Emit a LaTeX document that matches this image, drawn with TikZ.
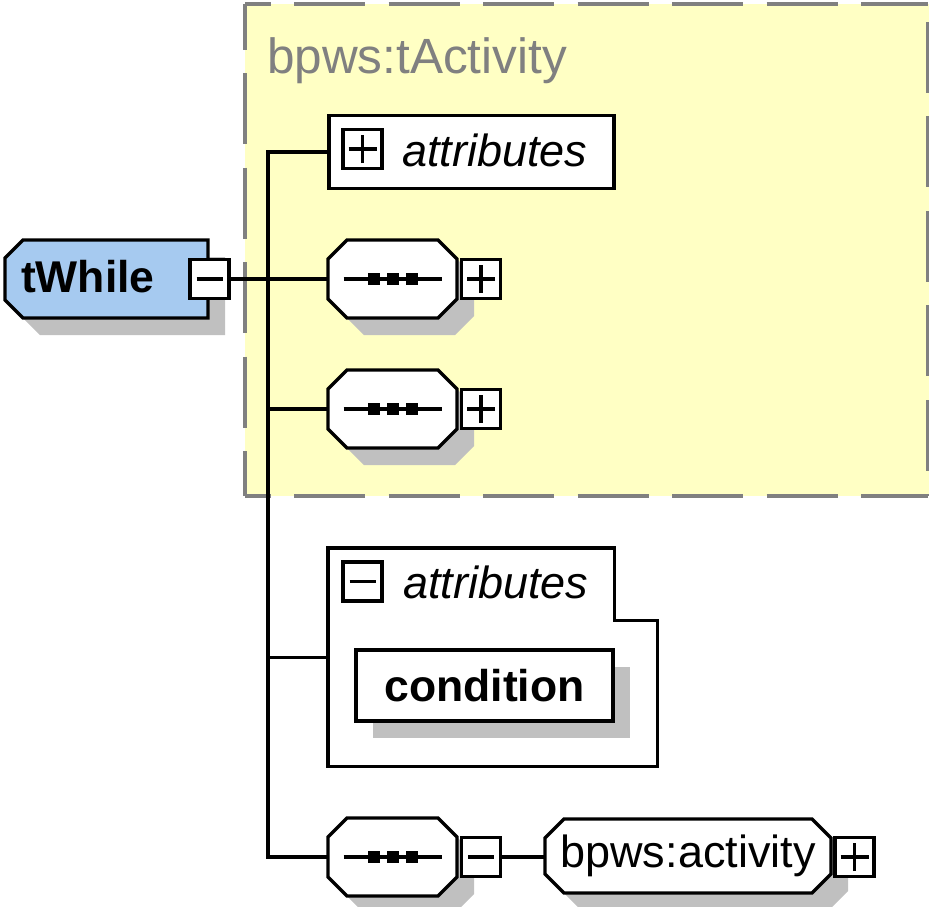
\documentclass[tikz,border=0pt]{standalone}
\usepackage{fontspec}
\setmainfont{Liberation Sans}
\usetikzlibrary{shadows,backgrounds}

\definecolor{typeblue}{RGB}{166,202,240}
\definecolor{basefill}{RGB}{255,255,196}
\definecolor{framegray}{RGB}{128,128,128}
\definecolor{shadowgray}{RGB}{192,192,192}

% A rectangle whose corners are cut off at 45 degrees;
% the left and right cuts are set separately.
\makeatletter
\pgfkeys{/pgf/left cut/.initial=19pt, /pgf/right cut/.initial=19pt}
\newdimen\cbxa \newdimen\cbya \newdimen\cbxb \newdimen\cbyb
\newdimen\cbcl \newdimen\cbcr
\newdimen\cbxl \newdimen\cbxr
\newdimen\cbyll \newdimen\cbylu \newdimen\cbyrl \newdimen\cbyru
\pgfdeclareshape{cutbox}{%
  \inheritsavedanchors[from=rectangle]
  \inheritanchorborder[from=rectangle]
  \inheritanchor[from=rectangle]{center}
  \inheritanchor[from=rectangle]{north}
  \inheritanchor[from=rectangle]{south}
  \inheritanchor[from=rectangle]{east}
  \inheritanchor[from=rectangle]{west}
  \inheritanchor[from=rectangle]{north east}
  \inheritanchor[from=rectangle]{north west}
  \inheritanchor[from=rectangle]{south east}
  \inheritanchor[from=rectangle]{south west}
  \backgroundpath{%
    \southwest \cbxa=\pgf@x \cbya=\pgf@y
    \northeast \cbxb=\pgf@x \cbyb=\pgf@y
    \pgfmathsetlength\cbcl{\pgfkeysvalueof{/pgf/left cut}}%
    \pgfmathsetlength\cbcr{\pgfkeysvalueof{/pgf/right cut}}%
    \cbxl=\cbxa \advance\cbxl by \cbcl
    \cbxr=\cbxb \advance\cbxr by -\cbcr
    \cbyll=\cbya \advance\cbyll by \cbcl
    \cbylu=\cbyb \advance\cbylu by -\cbcl
    \cbyrl=\cbya \advance\cbyrl by \cbcr
    \cbyru=\cbyb \advance\cbyru by -\cbcr
    \pgfpathmoveto{\pgfqpoint{\cbxl}{\cbya}}%
    \pgfpathlineto{\pgfqpoint{\cbxr}{\cbya}}%
    \pgfpathlineto{\pgfqpoint{\cbxb}{\cbyrl}}%
    \pgfpathlineto{\pgfqpoint{\cbxb}{\cbyru}}%
    \pgfpathlineto{\pgfqpoint{\cbxr}{\cbyb}}%
    \pgfpathlineto{\pgfqpoint{\cbxl}{\cbyb}}%
    \pgfpathlineto{\pgfqpoint{\cbxa}{\cbylu}}%
    \pgfpathlineto{\pgfqpoint{\cbxa}{\cbyll}}%
    \pgfpathclose
  }%
}
\makeatother

\begin{document}
\begin{tikzpicture}[x=1pt,y=-1pt,
  every node/.style={outer sep=0pt, inner sep=0pt, font=\fontsize{45}{54}\selectfont},
  wire/.style={line width=3.3pt},
  shade17/.style={drop shadow={shadow xshift=17pt, shadow yshift=-17pt, fill=shadowgray, opacity=1}},
  octa/.style={cutbox, left cut=19pt, right cut=19pt, draw, line width=3.3pt, fill=white},
  seqglyph/.style={path picture={
      \draw[black, line width=3.3pt] ([xshift=-49pt]path picture bounding box.center)
        -- ([xshift=49pt]path picture bounding box.center);
      \foreach \dx in {-19,0,19}
        \fill[black] ([xshift=\dx pt]path picture bounding box.center) +(-6,-6) rectangle +(6,6);}},
  seqbox/.style={octa, shade17, seqglyph, minimum width=129pt, minimum height=78pt},
  pmbox/.style={rectangle, draw, line width=3.3pt, fill=white, minimum size=39pt},
  plusbox/.style={pmbox, path picture={\draw[black, line width=3.3pt]
      ([xshift=-14pt]path picture bounding box.center) -- ([xshift=14pt]path picture bounding box.center)
      ([yshift=-14pt]path picture bounding box.center) -- ([yshift=14pt]path picture bounding box.center);}},
  minusbox/.style={pmbox, path picture={\draw[black, line width=3.3pt]
      ([xshift=-13pt]path picture bounding box.center) -- ([xshift=13pt]path picture bounding box.center);}},
  attrbox/.style={rectangle, draw, line width=3.3pt, fill=white},
  groupline/.style={draw, line width=3.3pt, fill=white},
  framedash/.style={draw=framegray, line width=3.8pt, dash pattern=on 71pt off 23.5pt},
  boldlabel/.style={font=\fontsize{44.5}{53}\selectfont\bfseries},
  itlabel/.style={font=\fontsize{45}{54}\selectfont\itshape},
]
\useasboundingbox (0,0) rectangle (929,906);

% base type area: pale yellow panel with dashed grey frame
\begin{scope}[on background layer]
  \fill[white] (0,0) rectangle (929,906);
  \fill[basefill] (245,4) rectangle (929,496);
  \draw[framedash, dash phase=45.5pt] (245,4) -- (928,4);
  \draw[framedash, dash phase=45.5pt] (245,496) -- (928,496);
  \draw[framedash, dash phase=25.5pt] (245,4) -- (245,496);
  \draw[framedash, dash phase=77pt] (928,4) -- (928,496);
\end{scope}
\node[anchor=base west, text=framegray, font=\fontsize{49.5}{59}\selectfont] (basetitle) at (267,73) {bpws:tActivity};

% complex type tWhile
\node[cutbox, left cut=18pt, right cut=0pt, draw, line width=3.3pt, fill=typeblue, shade17,
      minimum width=203pt, minimum height=78pt] (twhile) at (106.5,279) {};
\node[anchor=base west, boldlabel] (twhilelabel) at (21,292) {tWhile};
\node[minusbox] (m0) at (209.5,279) {};

% inherited content
\node[attrbox, minimum width=285pt, minimum height=73pt] (at1) at (471.5,152) {};
\node[plusbox] (p0) at (362.5,149) {};
\node[anchor=base west, itlabel] (at1label) at (402,166) {attributes};

\node[seqbox] (s1) at (392.5,279) {};
\node[plusbox] (p1) at (481,279) {};
\node[seqbox] (s2) at (392.5,409) {};
\node[plusbox] (p2) at (481,409) {};

% own attributes
\node[minimum width=329.5pt, minimum height=218.5pt] (agrp) at (492.75,657.25) {};
\draw[groupline] (agrp.north west) -- ([xshift=-43pt]agrp.north east)
  -- ([xshift=-43pt,yshift=-72.5pt]agrp.north east) -- ([yshift=-72.5pt]agrp.north east)
  -- (agrp.south east) -- (agrp.south west) -- cycle;
\node[minusbox] (m2) at (362.5,581.5) {};
\node[anchor=base west, itlabel] (at2label) at (403,598) {attributes};
\node[attrbox, shade17, boldlabel, minimum width=257pt, minimum height=71pt] (cond) at (484.5,685.5) {condition};

% own sequence
\node[seqbox] (s3) at (392.5,857) {};
\node[minusbox] (m3) at (481,857) {};
\node[octa, shade17, minimum width=286pt, minimum height=74pt] (act) at (688,856) {bpws:activity};
\node[plusbox] (p4) at (854.5,857) {};

% connectors
\begin{scope}[on background layer]
  \coordinate (trunk) at (268,0);
  \draw[wire] (at1.west) -| (trunk |- s3.west) -- (s3.west);
  \draw[wire] (s2.west) -- (s2.west -| trunk);
  \draw[wire] (agrp.west) -- (agrp.west -| trunk);
  \draw[wire] (m0.east) -- (s1.west);
  \draw[wire] (m3.east) -- (m3.east -| act.west);
\end{scope}
\end{tikzpicture}
\end{document}
